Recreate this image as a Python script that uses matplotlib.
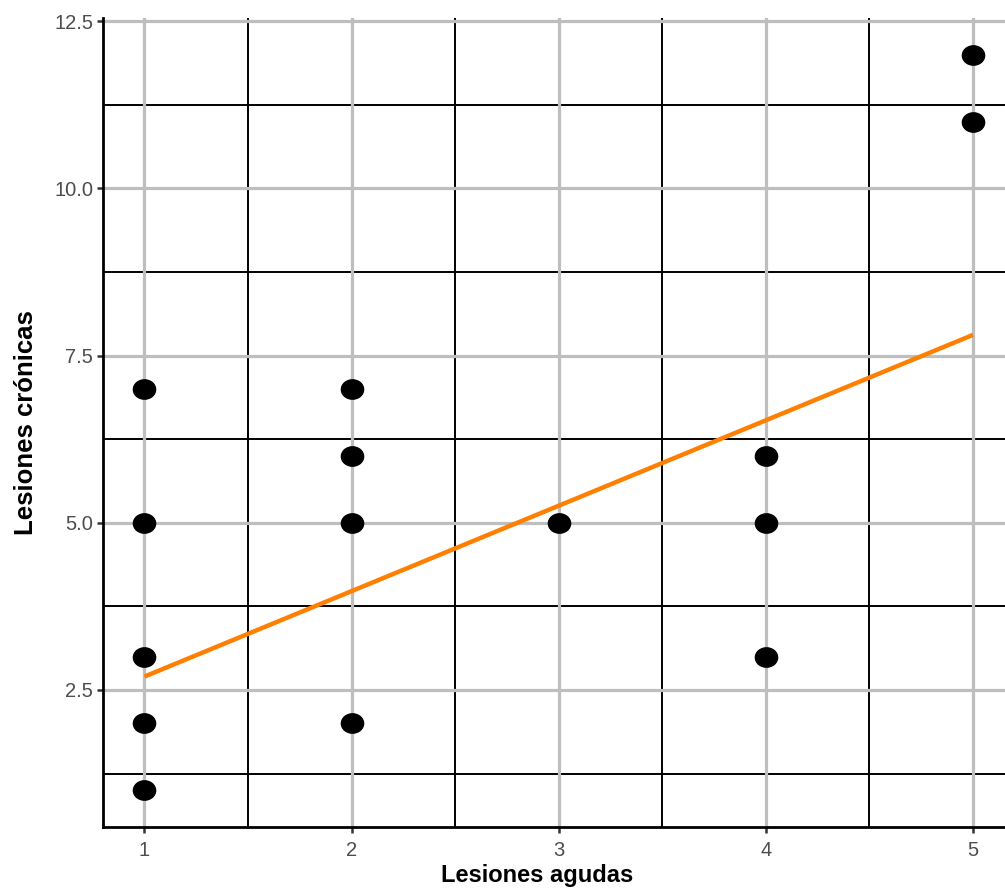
import numpy as np
import matplotlib
matplotlib.use("Agg")
import matplotlib.pyplot as plt
from matplotlib.path import Path

# Data
agudas = [1, 1, 1, 1, 1, 2, 2, 2, 2, 3, 4, 4, 4, 5, 5]
cronicas = [7, 5, 3, 2, 1, 7, 6, 5, 2, 5, 6, 5, 3, 12, 11]
fit_x = [1, 5]
fit_y = [2.70, 7.81]
x_ticks = [1, 2, 3, 4, 5]
y_ticks = [2.5, 5.0, 7.5, 10.0, 12.5]
y_tick_labels = ["2.5", "5.0", "7.5", "10.0", "12.5"]

plt.rcParams['font.family'] = ['Liberation Sans', 'DejaVu Sans']

fig = plt.figure(figsize=(10.05, 8.91), dpi=100)
ax = fig.add_axes([103/1005, 64/891, 1 - 103/1005, (827-18)/891])

ax.set_xlim(0.8, 5.155)
ax.set_ylim(0.45, 12.55)

# grid
for xv in [1.5, 2.5, 3.5, 4.5]:
    ax.axvline(xv, color='black', lw=1.4, zorder=1)
for yv in [1.25, 3.75, 6.25, 8.75, 11.25]:
    ax.axhline(yv, color='black', lw=1.4, zorder=1)
for xv in x_ticks:
    ax.axvline(xv, color='#BEBEBE', lw=2.3, zorder=1.5)
for yv in y_ticks:
    ax.axhline(yv, color='#BEBEBE', lw=2.3, zorder=1.5)

ell = Path.unit_circle().transformed(matplotlib.transforms.Affine2D().scale(1.15, 1.0))
ax.plot(agudas, cronicas, linestyle='none', marker=ell, markersize=16,
        color='black', zorder=3)
ax.plot(fit_x, fit_y, color='#FF7F00', lw=3.2, zorder=4, solid_capstyle='butt')

ax.set_xticks(x_ticks)
ax.set_xticklabels([str(v) for v in x_ticks])
ax.set_yticks(y_ticks)
ax.set_yticklabels(y_tick_labels)

for s in ['top', 'right']:
    ax.spines[s].set_visible(False)
for s in ['left', 'bottom']:
    ax.spines[s].set_linewidth(2.0)
    ax.spines[s].set_color('black')
    ax.spines[s].set_zorder(5)

ax.tick_params(axis='both', length=4, width=1.8, color='#333333',
               labelcolor='#4D4D4D', labelsize=14.5, pad=3)
ax.tick_params(axis='x', pad=6)

ax.set_xlabel('Lesiones agudas', fontsize=17, fontweight='bold', color='black')
ax.set_ylabel('Lesiones crónicas', fontsize=18.5, fontweight='bold', color='black')
ax.xaxis.set_label_coords((537-103)/902, -0.046)
ax.yaxis.set_label_coords(-0.072, 0.5)

fig.savefig('out.png', dpi=100)
